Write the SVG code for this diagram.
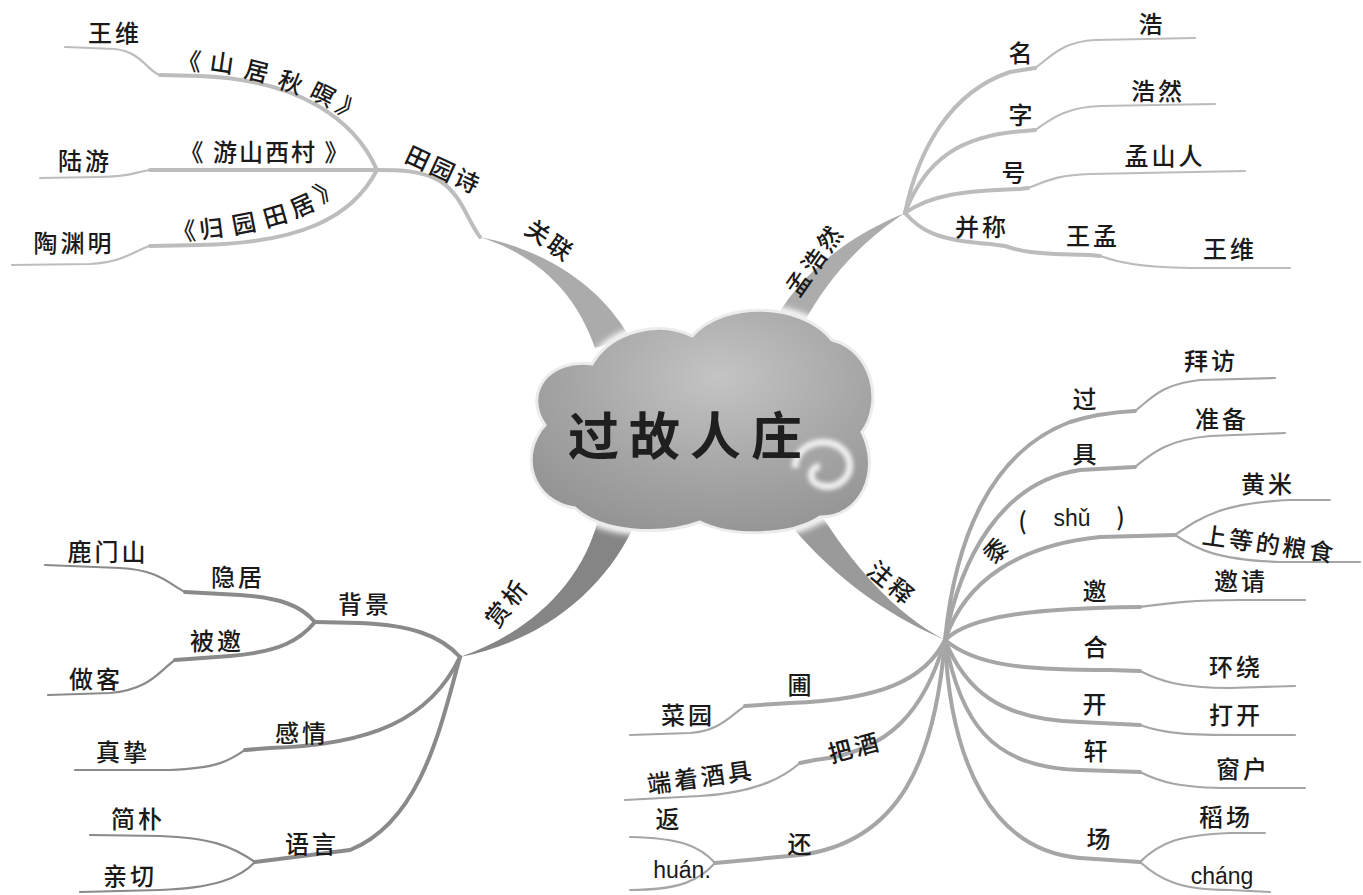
<svg xmlns="http://www.w3.org/2000/svg" width="1363" height="895" viewBox="0 0 1363 895">
<style>
.t{font-family:"Noto Sans CJK SC","Noto Sans",sans-serif;font-size:24px;font-weight:500;fill:#1a1a1a;text-anchor:middle;letter-spacing:3px}
.p{font-family:"Liberation Sans","Noto Sans",sans-serif;font-size:23px;fill:#1a1a1a;text-anchor:middle}
.ltl{fill:none;stroke:#bdbdbd;stroke-linecap:round;stroke-linejoin:round}
.ltr{fill:none;stroke:#bcbcbc;stroke-linecap:round;stroke-linejoin:round}
.lbl{fill:none;stroke:#8a8a8a;stroke-linecap:round;stroke-linejoin:round}
.lbr{fill:none;stroke:#a6a6a6;stroke-linecap:round;stroke-linejoin:round}
.w4{stroke-width:4}
.w2{stroke-width:2.2}
</style>
<defs>
<radialGradient id="cg" cx="0.55" cy="0.3" r="0.8">
<stop offset="0" stop-color="#c4c4c4"/>
<stop offset="0.55" stop-color="#a5a5a5"/>
<stop offset="1" stop-color="#909090"/>
</radialGradient>
<filter id="glow" x="-20%" y="-20%" width="140%" height="140%"><feGaussianBlur stdDeviation="3"/></filter>
<filter id="soft" x="-30%" y="-30%" width="160%" height="160%"><feGaussianBlur stdDeviation="2"/></filter>
</defs>
<rect width="1363" height="895" fill="#ffffff"/>

<g id="connectors">
<path d="M480,237 C535,255 575,290 595,348 L630,338 C600,285 545,250 480,237 Z" fill="#ababab"/>
<path d="M905,213 C858,232 800,268 768,332 L802,326 C832,270 870,236 905,213 Z" fill="#acacac"/>
<path d="M945,640 C880,612 828,572 782,515 L812,500 C848,560 892,612 945,640 Z" fill="#9a9a9a"/>
<path d="M460,657 C532,632 582,582 598,520 L632,530 C602,592 540,642 460,657 Z" fill="#858585"/>

<path class="ltl w4" d="M480,237 C468,222 462,195 440,181 C420,170 400,170 377,170"/>
<path class="ltl w4" d="M377,170 C355,120 300,80 200,76 L160,75"/>
<path class="ltl w2" d="M160,75 C148,72 142,52 115,49 L65,47"/>
<path class="ltl w4" d="M377,170 L150,170"/>
<path class="ltl w2" d="M150,170 C135,172 130,177 100,177 L40,178"/>
<path class="ltl w4" d="M377,170 C352,218 300,243 200,245 L150,246"/>
<path class="ltl w2" d="M150,246 C135,250 125,262 90,264 L12,265"/>

<path class="ltr w4" d="M905,213 C918,150 950,92 1010,72 L1035,68"/>
<path class="ltr w2" d="M1035,68 C1050,58 1060,42 1095,40 L1195,38"/>
<path class="ltr w4" d="M905,213 C925,160 960,135 1025,131 L1035,130"/>
<path class="ltr w2" d="M1035,130 C1050,120 1065,107 1100,106 L1215,104"/>
<path class="ltr w4" d="M905,213 C930,195 962,191 1020,189 L1028,188"/>
<path class="ltr w2" d="M1028,188 C1045,182 1055,175 1090,174 L1245,171"/>
<path class="ltr w4" d="M905,213 C920,230 935,240 990,244 L1005,246"/>
<path class="ltr w4" d="M1005,246 C1020,251 1030,254 1090,255 L1100,256"/>
<path class="ltr w2" d="M1100,256 C1120,263 1140,267 1190,268 L1290,268"/>

<path class="lbr w4" d="M945,640 C955,540 990,452 1070,422 C1095,414 1115,412 1135,411"/>
<path class="lbr w2" d="M1135,411 C1150,400 1160,384 1200,380 L1275,378"/>
<path class="lbr w4" d="M945,640 C960,560 1000,482 1080,470 L1135,467"/>
<path class="lbr w2" d="M1135,467 C1150,455 1165,440 1210,436 L1285,433"/>
<path class="lbr w4" d="M945,640 C965,580 1020,545 1100,537 L1175,535"/>
<path class="lbr w2" d="M1175,535 C1200,518 1220,503 1290,500 L1330,500"/>
<path class="lbr w2" d="M1175,535 C1195,548 1215,560 1280,562 L1360,562"/>
<path class="lbr w4" d="M945,640 C970,615 1040,608 1140,607"/>
<path class="lbr w2" d="M1140,607 C1170,603 1190,600 1240,600 L1305,600"/>
<path class="lbr w4" d="M945,640 C975,665 1020,670 1110,670 L1140,671"/>
<path class="lbr w2" d="M1140,671 C1160,681 1180,688 1230,688 L1295,686"/>
<path class="lbr w4" d="M945,640 C965,690 1000,720 1080,722 L1140,725"/>
<path class="lbr w2" d="M1140,725 C1165,734 1190,735 1240,735 L1295,735"/>
<path class="lbr w4" d="M945,640 C960,720 990,768 1080,770 L1140,772"/>
<path class="lbr w2" d="M1140,772 C1160,782 1180,788 1230,788 L1305,788"/>
<path class="lbr w4" d="M945,640 C950,760 990,850 1080,858 L1140,862"/>
<path class="lbr w2" d="M1140,862 C1160,842 1180,835 1230,833 L1265,833"/>
<path class="lbr w2" d="M1140,862 C1160,880 1180,890 1230,890 L1270,892"/>
<path class="lbr w4" d="M945,640 C925,680 880,700 790,703 L745,706"/>
<path class="lbr w2" d="M745,706 C730,716 720,731 690,733 L630,735"/>
<path class="lbr w4" d="M945,640 C925,710 890,752 815,760 L800,763"/>
<path class="lbr w2" d="M800,763 C785,776 760,792 700,796 L625,800"/>
<path class="lbr w4" d="M945,640 C935,760 900,842 800,855 L715,863"/>
<path class="lbr w2" d="M715,863 C700,846 680,838 630,837"/>
<path class="lbr w2" d="M715,863 C700,880 680,890 630,890"/>

<path class="lbl w4" d="M460,657 C440,635 410,625 360,623 L315,622"/>
<path class="lbl w4" d="M315,622 C300,605 280,598 240,595 L185,592"/>
<path class="lbl w2" d="M185,592 C170,585 160,570 120,568 L45,565"/>
<path class="lbl w4" d="M315,622 C300,640 280,652 230,656 L175,660"/>
<path class="lbl w2" d="M175,660 C160,670 150,690 110,693 L48,695"/>
<path class="lbl w4" d="M460,657 C430,720 370,745 270,748 L245,750"/>
<path class="lbl w2" d="M245,750 C230,760 220,768 170,770 L75,770"/>
<path class="lbl w4" d="M460,657 C440,730 420,822 350,850 L255,862"/>
<path class="lbl w2" d="M255,862 C230,845 210,838 160,836 L90,835"/>
<path class="lbl w2" d="M255,862 C240,878 215,888 160,890 L80,892"/>
</g>

<g id="center">
<path d="M575,508 C532,502 518,455 545,425 C522,392 550,358 592,364 C612,330 660,320 692,336 C724,300 802,302 832,340 C872,350 884,402 862,432 C882,472 860,518 820,517 C790,537 730,537 700,522 C660,537 600,532 575,508 Z" fill="none" stroke="#ffffff" stroke-width="10" filter="url(#glow)"/>
<path d="M575,508 C532,502 518,455 545,425 C522,392 550,358 592,364 C612,330 660,320 692,336 C724,300 802,302 832,340 C872,350 884,402 862,432 C882,472 860,518 820,517 C790,537 730,537 700,522 C660,537 600,532 575,508 Z" fill="url(#cg)" stroke="#ececec" stroke-width="3"/>
<path d="M795,468 C795,442 830,434 845,452 C858,470 842,490 822,486 C808,483 808,468 820,466" fill="none" stroke="#f0f0f0" stroke-width="7" filter="url(#soft)"/>
<text x="690" y="455" style="font-family:'Noto Sans CJK SC',sans-serif;font-size:51px;font-weight:700;fill:#1f1f1f;text-anchor:middle;letter-spacing:10px">过故人庄</text>
</g>

<g id="branch-guanlian">
<text class="t" transform="translate(545,248) rotate(35)">关联</text>
<text class="t" transform="translate(440,178) rotate(25)">田园诗</text>
<text class="t" x="115" y="42">王维</text>
<text class="t" transform="translate(190,70) rotate(5)">《</text>
<text class="t" transform="translate(222,72) rotate(8)">山</text>
<text class="t" transform="translate(256,80) rotate(14)">居</text>
<text class="t" transform="translate(289,91) rotate(20)">秋</text>
<text class="t" transform="translate(320,103) rotate(27)">暝</text>
<text class="t" transform="translate(345,118) rotate(38)">》</text>
<text class="t" x="85" y="170">陆游</text>
<text class="t" x="265" y="161" style="letter-spacing:2px">《 游山西村 》</text>
<text class="t" x="74" y="252">陶渊明</text>
<text class="t" transform="translate(186,240) rotate(-4)">《</text>
<text class="t" transform="translate(214,237) rotate(-7)">归</text>
<text class="t" transform="translate(247,232) rotate(-11)">园</text>
<text class="t" transform="translate(279,224) rotate(-16)">田</text>
<text class="t" transform="translate(307,213) rotate(-24)">居</text>
<text class="t" transform="translate(333,196) rotate(-35)">》</text>
</g>

<g id="branch-menghaoran">
<text class="t" transform="translate(822,265) rotate(-55)">孟浩然</text>
<text class="t" x="1022" y="62">名</text>
<text class="t" x="1152" y="33">浩</text>
<text class="t" x="1022" y="124">字</text>
<text class="t" x="1158" y="100">浩然</text>
<text class="t" x="1015" y="182">号</text>
<text class="t" x="1165" y="165">孟山人</text>
<text class="t" x="982" y="236">并称</text>
<text class="t" x="1093" y="245">王孟</text>
<text class="t" x="1230" y="258">王维</text>
</g>

<g id="branch-shangxi">
<text class="t" transform="translate(514,608) rotate(-52)">赏析</text>
<text class="t" x="365" y="613">背景</text>
<text class="t" x="238" y="586">隐居</text>
<text class="t" x="108" y="561">鹿门山</text>
<text class="t" x="217" y="650">被邀</text>
<text class="t" x="96" y="688">做客</text>
<text class="t" x="302" y="742">感情</text>
<text class="t" x="123" y="761">真挚</text>
<text class="t" x="312" y="853">语言</text>
<text class="t" x="138" y="828">简朴</text>
<text class="t" x="130" y="885">亲切</text>
</g>

<g id="branch-zhushi">
<text class="t" transform="translate(886,590) rotate(40)">注释</text>
<text class="t" x="1086" y="408">过</text>
<text class="t" x="1211" y="370">拜访</text>
<text class="t" x="1086" y="463">具</text>
<text class="t" x="1222" y="428">准备</text>
<text class="t" transform="translate(1003,556) rotate(-45)">黍</text>
<text class="t" x="1024" y="530">(</text>
<text class="p" x="1072" y="526">shǔ</text>
<text class="t" x="1122" y="526">)</text>
<text class="t" x="1268" y="493">黄米</text>
<text class="t" transform="translate(1268,553) rotate(8)">上等的粮食</text>
<text class="t" x="1096" y="600">邀</text>
<text class="t" x="1241" y="590">邀请</text>
<text class="t" x="1097" y="656">合</text>
<text class="t" x="1236" y="676">环绕</text>
<text class="t" x="1096" y="713">开</text>
<text class="t" x="1236" y="724">打开</text>
<text class="t" x="1097" y="760">轩</text>
<text class="t" x="1243" y="778">窗户</text>
<text class="t" x="1100" y="848">场</text>
<text class="t" x="1226" y="826">稻场</text>
<text class="p" x="1222" y="884">cháng</text>
<text class="t" x="801" y="694">圃</text>
<text class="t" x="688" y="724">菜园</text>
<text class="t" transform="translate(857,756) rotate(-15)">把酒</text>
<text class="t" transform="translate(702,786) rotate(-8)">端着酒具</text>
<text class="t" x="669" y="828">返</text>
<text class="p" x="682" y="878">huán.</text>
<text class="t" x="801" y="853">还</text>
</g>
</svg>
